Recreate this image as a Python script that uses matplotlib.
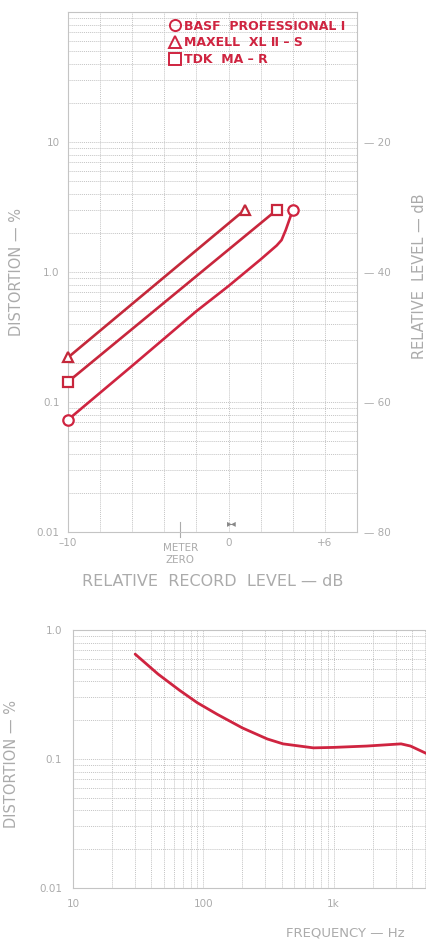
import numpy as np
import matplotlib
matplotlib.use("Agg")
import matplotlib.pyplot as plt
from matplotlib.lines import Line2D
from matplotlib.ticker import LogLocator, NullFormatter, NullLocator

# --- top chart: distortion vs relative record level (dB) ---
basf_level = [-10, -6, -2, 0, 2, 3, 3.3, 3.56, 3.8, 4]
basf_dist = [0.073, 0.19, 0.50, 0.78, 1.25, 1.6, 1.76, 2.1, 2.55, 3.0]
maxell_level = [-10, 1]
maxell_dist = [0.22, 3.0]
tdk_level = [-10, 3]
tdk_dist = [0.143, 3.0]

legend_labels = ["BASF  PROFESSIONAL Ⅰ", "MAXELL  XL Ⅱ – S", "TDK  MA – R"]
level_ticks = [-10, 0, 6]
level_ticklabels = ["–10", "0", "+6"]
meter_zero = -3
dist_ticks = [0.01, 0.1, 1.0, 10]
dist_ticklabels = ["0.01", "0.1", "1.0", "10"]
rel_ticks = [-80, -60, -40, -20]
rel_ticklabels = ["— 80", "— 60", "— 40", "— 20"]

# --- bottom chart: distortion vs frequency ---
freq = [30, 45, 66, 90, 128, 200, 310, 410, 700, 1000, 1800, 3300, 3900, 5200, 7000]
freq_dist = [0.65, 0.455, 0.34, 0.273, 0.222, 0.174, 0.143, 0.131, 0.122, 0.123,
             0.126, 0.131, 0.126, 0.11, 0.095]
freq_ticks = [10, 100, 1000]
freq_ticklabels = ["10", "100", "1k"]
freq_dist_ticks = [0.01, 0.1, 1.0]
freq_dist_ticklabels = ["0.01", "0.1", "1.0"]

RED = "#cf2440"
TEXT = "#ababab"
GRID = "#c4c4c4"

plt.rcParams["font.family"] = ["DejaVu Sans"]

fig = plt.figure(figsize=(4.27, 9.44), dpi=100)


def style_grid(ax):
    for s in ax.spines.values():
        s.set_color(GRID)
        s.set_linewidth(0.8)
    ax.grid(True, which="both", color=GRID, linestyle=(0, (1, 1)), linewidth=0.7)
    ax.tick_params(which="both", length=0, colors=TEXT, labelsize=7.5)


# top axes
ax = fig.add_axes([68 / 427, 1 - 532 / 944, 289 / 427, 520 / 944])
ax.set_yscale("log")
ax.set_xlim(-10, 8)
ax.set_ylim(0.01, 100)
ax.yaxis.set_minor_locator(LogLocator(base=10, subs=np.arange(2, 10), numticks=20))
ax.yaxis.set_minor_formatter(NullFormatter())
style_grid(ax)
ax.set_xticks(level_ticks)
ax.set_xticklabels(level_ticklabels)
ax.set_xticks(np.arange(-10, 9, 2), minor=True)
ax.set_yticks(dist_ticks)
ax.set_yticklabels(dist_ticklabels)
ax.tick_params(axis="y", pad=6)
ax.tick_params(axis="x", pad=4)

ax.plot(maxell_level, maxell_dist, color="#c4283a", lw=1.9)
ax.plot(tdk_level, tdk_dist, color="#c8263c", lw=1.9)
ax.plot(basf_level, basf_dist, color=RED, lw=1.9)
mk = dict(ls="none", mfc="white", mew=1.6, ms=7.5, zorder=5, clip_on=False)
ax.plot([maxell_level[0], maxell_level[-1]], [maxell_dist[0], maxell_dist[-1]],
        marker="^", mec="#c4283a", **mk)
ax.plot([tdk_level[0], tdk_level[-1]], [tdk_dist[0], tdk_dist[-1]],
        marker="s", mec="#c8263c", **mk)
ax.plot([basf_level[0], basf_level[-1]], [basf_dist[0], basf_dist[-1]],
        marker="o", mec=RED, **mk)

handles = [Line2D([], [], ls="none", marker=m, mfc="none", mec=RED, mew=1.4, ms=8)
           for m in ["o", "^", "s"]]
leg = ax.legend(handles, legend_labels, loc="upper left", bbox_to_anchor=(0.33, 0.995),
                frameon=False, fontsize=9, handletextpad=0.25, labelspacing=0.3,
                handlelength=1.0, borderaxespad=0)
for t in leg.get_texts():
    t.set_color(RED)
    t.set_fontweight("bold")

# meter zero mark
ax.axvline(meter_zero, ymin=-0.01, ymax=0.02, color=TEXT, lw=0.8, clip_on=False)
ax.text(meter_zero, -0.022, "METER\nZERO", transform=ax.get_xaxis_transform(),
        ha="center", va="top", color=TEXT, fontsize=7.5, linespacing=1.25)
ax.text(0.2, 0.018, "▸◂", transform=ax.get_xaxis_transform(), ha="center",
        va="center", color="#888888", fontsize=7)

ax.set_xlabel("RELATIVE  RECORD  LEVEL — dB", color=TEXT, fontsize=11.5, labelpad=19)
ax.set_ylabel("DISTORTION — %", color=TEXT, fontsize=10.5)
ax.yaxis.set_label_coords(-44 / 289, 0.5)

# right scale: relative level, 20 dB per decade of distortion
rx = ax.twinx()
rx.set_yscale("log")
rx.set_ylim(ax.get_ylim())
rx.yaxis.set_minor_locator(NullLocator())
rx.set_yticks([100 * 10 ** (db / 20) for db in rel_ticks])
rx.set_yticklabels(rel_ticklabels)
rx.tick_params(length=0, colors=TEXT, labelsize=7.5, pad=5)
for s in rx.spines.values():
    s.set_visible(False)
fig.text(420 / 427, 1 - 276 / 944, "RELATIVE  LEVEL — dB", color=TEXT, fontsize=10.5,
         rotation=90, ha="center", va="center")

# bottom axes
bx = fig.add_axes([73 / 427, 1 - 888 / 944, 430 / 427, 258 / 944])
bx.set_xscale("log")
bx.set_yscale("log")
bx.set_xlim(10, 20000)
bx.set_ylim(0.01, 1.0)
bx.xaxis.set_minor_locator(LogLocator(base=10, subs=np.arange(2, 10), numticks=20))
bx.yaxis.set_minor_locator(LogLocator(base=10, subs=np.arange(2, 10), numticks=20))
bx.xaxis.set_minor_formatter(NullFormatter())
bx.yaxis.set_minor_formatter(NullFormatter())
style_grid(bx)
bx.set_xticks(freq_ticks)
bx.set_xticklabels(freq_ticklabels)
bx.set_yticks(freq_dist_ticks)
bx.set_yticklabels(freq_dist_ticklabels)
bx.tick_params(axis="y", pad=8)
bx.tick_params(axis="x", pad=8)
bx.plot(freq, freq_dist, color=RED, lw=2.0, solid_capstyle="round")

bx.set_ylabel("DISTORTION — %", color=TEXT, fontsize=10.5)
bx.yaxis.set_label_coords(-54 / 430, 0.48)
fig.text(345 / 427, 1 - 940 / 944, "FREQUENCY — Hz", color=TEXT, fontsize=9.5,
         ha="center", va="bottom")

fig.savefig("out.png", dpi=100, facecolor="white")
